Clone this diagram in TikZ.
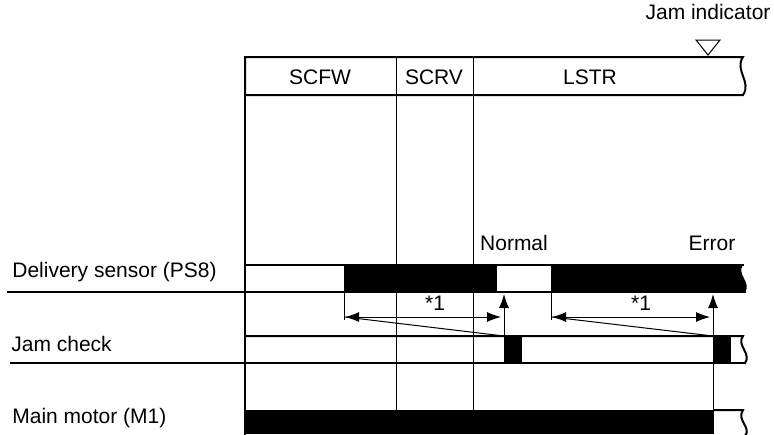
\documentclass[tikz,border=0pt]{standalone}
\usepackage{fontspec}
\setmainfont{Liberation Sans}
\usetikzlibrary{arrows.meta}
\begin{document}
\begin{tikzpicture}[x=0.5pt, y=-0.5pt,
    lbl/.style={font=\fontsize{10.5}{12}\selectfont, inner sep=0pt},
    edge/.style={line width=1pt, line cap=rect},
    grid/.style={line width=0.5pt},
    blk/.style={fill=black},
    up/.style={line width=0.5pt, -{Latex[length=7pt,width=5pt]}},
    span/.style={line width=0.5pt, {Latex[length=7pt,width=5pt]}-{Latex[length=7pt,width=5pt]}}
]
    \useasboundingbox (0,0) rectangle (774,434);

    % header
    \node[lbl] (ind) at (708,12) {Jam indicator};
    \draw[grid] (696,40) -- (720,40) -- (708,55) -- cycle;
    \node[lbl] (scfw) at (320,77) {SCFW};
    \node[lbl] (scrv) at (434,77) {SCRV};
    \node[lbl] (lstr) at (590,77) {LSTR};
    \draw[edge] (245,95) -- (245,57) -- (743,57)
        .. controls (734,70) and (752,82) .. (743,95) -- (245,95);
    \draw[grid] (396,57) -- (396,410);
    \draw[grid] (473,57) -- (473,410);
    \draw[edge] (245,95) -- (245,434);

    % delivery sensor
    \node[lbl, anchor=west] (ds) at (12,272) {Delivery sensor (PS8)};
    \node[lbl] (nrm) at (514,243) {Normal};
    \node[lbl] (err) at (712,243) {Error};
    \fill[blk] (344,265) rectangle (497,292);
    \fill[blk] (551,265) -- (743,265)
        .. controls (736,274) and (752,283) .. (745,292) -- (551,292) -- cycle;
    \draw[edge] (245,265) -- (743,265);
    \draw[edge] (8,292) -- (745,292);

    % jam check timing
    \coordinate (t1) at (344,292);
    \coordinate (t2) at (551,292);
    \coordinate (p1) at (504,336);
    \coordinate (p2) at (713,336);
    \coordinate (m2) at (713,410);
    \draw[grid] (t1) -- ++(0,28);
    \draw[grid] (t2) -- ++(0,28);
    \draw[span] (345,317) coordinate (a1) -- (501,317);
    \draw[span] (552,317) coordinate (a2) -- (710,317);
    \draw[grid] (a1) -- (p1);
    \draw[grid] (a2) -- (p2);
    \node[lbl] (s1) at (435,303) {*1};
    \node[lbl] (s2) at (641,303) {*1};
    \draw[up] (p1) -- (504,294);
    \draw[up] (m2) -- (713,294);

    % jam check
    \node[lbl, anchor=west] (jc) at (11,344) {Jam check};
    \fill[blk] (504,336) rectangle (522,363);
    \fill[blk] (713,336) rectangle (731,363);
    \draw[edge] (245,336) -- (743,336)
        .. controls (736,345) and (752,354) .. (745,363);
    \draw[edge] (11,363) -- (745,363);

    % main motor
    \node[lbl, anchor=west] (mm) at (12,418) {Main motor (M1)};
    \fill[blk] (245,410) rectangle (714,434);
    \draw[edge] (714,410) -- (743,410)
        .. controls (736,420) and (752,428) .. (745,436);
\end{tikzpicture}
\end{document}
